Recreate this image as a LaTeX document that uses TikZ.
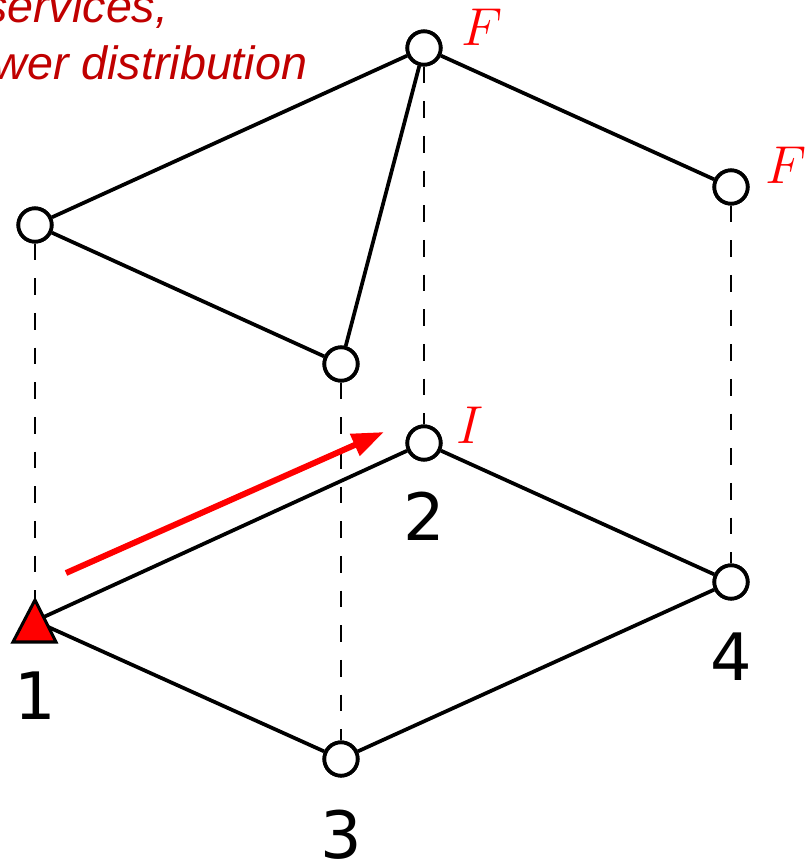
\documentclass[tikz,border=0pt]{standalone}
\usepackage{fix-cm}
\usepackage{fontspec}
\newfontfamily\numfont{DejaVu Sans}
\newfontfamily\notefont{Liberation Sans}
\usetikzlibrary{arrows.meta}
\definecolor{notered}{HTML}{C00000}
\tikzset{
  bus/.style={circle,draw,line width=2.8pt,fill=white,minimum size=25pt,inner sep=0pt},
  link/.style={line width=2.8pt},
  proj/.style={line width=1.4pt,dash pattern=on 12.5pt off 13.5pt},
  busnum/.style={font=\fontsize{49}{49}\selectfont\numfont},
  qty/.style={text=red,font=\fontsize{40}{40}\selectfont},
  note/.style={text=notered,anchor=base east,font=\fontsize{35}{35}\selectfont\notefont\itshape},
}
\begin{document}
\begin{tikzpicture}[x=0.75pt,y=-0.75pt]
\useasboundingbox (0,0) rectangle (804,859);
% lower level
\coordinate (b1) at (35,621);
\node[bus] (b2) at (424,443) {};
\node[bus] (b3) at (341,759) {};
\node[bus] (b4) at (731,582) {};
% upper level
\node[bus] (u1) at (35,225) {};
\node[bus] (u2) at (424,48) {};
\node[bus] (u3) at (341,364) {};
\node[bus] (u4) at (731,187) {};
% projections
\draw[proj] (u1) -- ([yshift=-21]b1);
\draw[proj] (u2) -- (b2);
\draw[proj] (u3) -- (b3);
\draw[proj] (u4) -- (b4);
% lines
\draw[link] (b1) -- (b2) -- (b4) -- (b3) -- (b1);
\draw[link] (u1) -- (u2) -- (u4);
\draw[link] (u1) -- (u3) -- (u2);
\foreach \n in {b2,b3,b4,u1,u2,u3,u4}
  \node[bus] at (\n) {};
% slack bus
\draw[line width=2.3pt,fill=red] ([shift={(-22,21)}]b1) -- ([shift={(0,-21)}]b1)
  -- ([shift={(21,21)}]b1) -- cycle;
% current arrow
\coordinate (ia) at (66,573);
\coordinate (ib) at (384,432);
\draw[red,line width=4.5pt,-{Triangle[length=24pt,width=17pt]}] (ia) -- (ib);
% labels
\node[busnum] (l1) at (35,696) {1};
\node[busnum] (l2) at (424,516) {2};
\node[busnum] (l3) at (341,835) {3};
\node[busnum] (l4) at (731,657) {4};
\node[qty] (f2) at (482,27) {$F$};
\node[qty] (f4) at (786,165) {$F$};
\node[qty] (i2) at (470,425) {$I$};
\node[note] (n1) at (173,23) {services,};
\node[note] (n2) at (312,80) {power distribution};
\end{tikzpicture}
\end{document}
